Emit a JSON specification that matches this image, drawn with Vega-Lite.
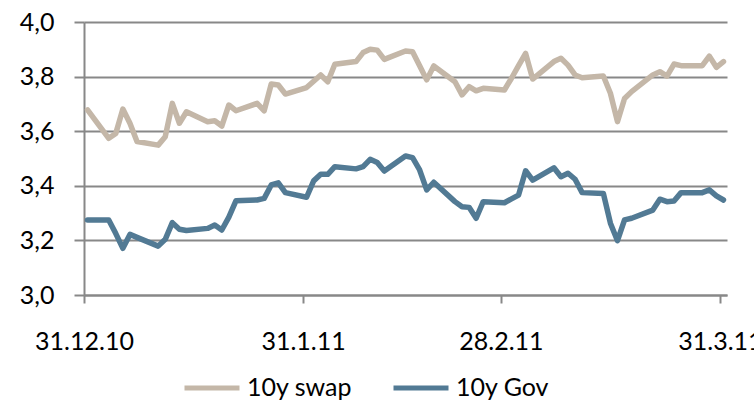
{
  "$schema": "https://vega.github.io/schema/vega-lite/v6.json",
  "width": 643,
  "height": 273,
  "autosize": {"type": "none"},
  "padding": {"left": 84, "top": 22, "right": 27, "bottom": 106},
  "background": "white",
  "config": {"view": {"stroke": null}, "font": "Lato"},
  "data": {"values": [
    {"date": "2010-12-31", "10y swap": 3.678, "10y Gov": 3.275},
    {"date": "2011-01-03", "10y swap": 3.574, "10y Gov": 3.275},
    {"date": "2011-01-04", "10y swap": 3.592, "10y Gov": 3.225},
    {"date": "2011-01-05", "10y swap": 3.681, "10y Gov": 3.171},
    {"date": "2011-01-06", "10y swap": 3.629, "10y Gov": 3.222},
    {"date": "2011-01-07", "10y swap": 3.562, "10y Gov": 3.211},
    {"date": "2011-01-10", "10y swap": 3.549, "10y Gov": 3.179},
    {"date": "2011-01-11", "10y swap": 3.580, "10y Gov": 3.204},
    {"date": "2011-01-12", "10y swap": 3.702, "10y Gov": 3.265},
    {"date": "2011-01-13", "10y swap": 3.629, "10y Gov": 3.241},
    {"date": "2011-01-14", "10y swap": 3.671, "10y Gov": 3.236},
    {"date": "2011-01-17", "10y swap": 3.635, "10y Gov": 3.244},
    {"date": "2011-01-18", "10y swap": 3.638, "10y Gov": 3.256},
    {"date": "2011-01-19", "10y swap": 3.619, "10y Gov": 3.238},
    {"date": "2011-01-20", "10y swap": 3.696, "10y Gov": 3.285},
    {"date": "2011-01-21", "10y swap": 3.675, "10y Gov": 3.345},
    {"date": "2011-01-24", "10y swap": 3.702, "10y Gov": 3.348},
    {"date": "2011-01-25", "10y swap": 3.675, "10y Gov": 3.354},
    {"date": "2011-01-26", "10y swap": 3.773, "10y Gov": 3.403},
    {"date": "2011-01-27", "10y swap": 3.769, "10y Gov": 3.411},
    {"date": "2011-01-28", "10y swap": 3.736, "10y Gov": 3.375},
    {"date": "2011-01-31", "10y swap": 3.760, "10y Gov": 3.358},
    {"date": "2011-02-01", "10y swap": 3.783, "10y Gov": 3.418},
    {"date": "2011-02-02", "10y swap": 3.806, "10y Gov": 3.442},
    {"date": "2011-02-03", "10y swap": 3.781, "10y Gov": 3.442},
    {"date": "2011-02-04", "10y swap": 3.845, "10y Gov": 3.470},
    {"date": "2011-02-07", "10y swap": 3.855, "10y Gov": 3.462},
    {"date": "2011-02-08", "10y swap": 3.888, "10y Gov": 3.470},
    {"date": "2011-02-09", "10y swap": 3.900, "10y Gov": 3.497},
    {"date": "2011-02-10", "10y swap": 3.897, "10y Gov": 3.485},
    {"date": "2011-02-11", "10y swap": 3.863, "10y Gov": 3.454},
    {"date": "2011-02-14", "10y swap": 3.894, "10y Gov": 3.509},
    {"date": "2011-02-15", "10y swap": 3.891, "10y Gov": 3.503},
    {"date": "2011-02-16", "10y swap": 3.840, "10y Gov": 3.458},
    {"date": "2011-02-17", "10y swap": 3.788, "10y Gov": 3.385},
    {"date": "2011-02-18", "10y swap": 3.839, "10y Gov": 3.413},
    {"date": "2011-02-21", "10y swap": 3.781, "10y Gov": 3.342},
    {"date": "2011-02-22", "10y swap": 3.733, "10y Gov": 3.323},
    {"date": "2011-02-23", "10y swap": 3.763, "10y Gov": 3.321},
    {"date": "2011-02-24", "10y swap": 3.748, "10y Gov": 3.281},
    {"date": "2011-02-25", "10y swap": 3.757, "10y Gov": 3.342},
    {"date": "2011-02-28", "10y swap": 3.751, "10y Gov": 3.338},
    {"date": "2011-03-01", "10y swap": 3.794, "10y Gov": 3.352},
    {"date": "2011-03-02", "10y swap": 3.840, "10y Gov": 3.366},
    {"date": "2011-03-03", "10y swap": 3.885, "10y Gov": 3.455},
    {"date": "2011-03-04", "10y swap": 3.791, "10y Gov": 3.421},
    {"date": "2011-03-07", "10y swap": 3.855, "10y Gov": 3.466},
    {"date": "2011-03-08", "10y swap": 3.867, "10y Gov": 3.433},
    {"date": "2011-03-09", "10y swap": 3.842, "10y Gov": 3.446},
    {"date": "2011-03-10", "10y swap": 3.806, "10y Gov": 3.424},
    {"date": "2011-03-11", "10y swap": 3.796, "10y Gov": 3.375},
    {"date": "2011-03-14", "10y swap": 3.802, "10y Gov": 3.372},
    {"date": "2011-03-15", "10y swap": 3.739, "10y Gov": 3.263},
    {"date": "2011-03-16", "10y swap": 3.635, "10y Gov": 3.199},
    {"date": "2011-03-17", "10y swap": 3.720, "10y Gov": 3.275},
    {"date": "2011-03-18", "10y swap": 3.745, "10y Gov": 3.281},
    {"date": "2011-03-21", "10y swap": 3.806, "10y Gov": 3.311},
    {"date": "2011-03-22", "10y swap": 3.818, "10y Gov": 3.351},
    {"date": "2011-03-23", "10y swap": 3.802, "10y Gov": 3.342},
    {"date": "2011-03-24", "10y swap": 3.846, "10y Gov": 3.344},
    {"date": "2011-03-25", "10y swap": 3.840, "10y Gov": 3.375},
    {"date": "2011-03-28", "10y swap": 3.840, "10y Gov": 3.375},
    {"date": "2011-03-29", "10y swap": 3.875, "10y Gov": 3.385},
    {"date": "2011-03-30", "10y swap": 3.834, "10y Gov": 3.363},
    {"date": "2011-03-31", "10y swap": 3.855, "10y Gov": 3.348}
  ]},
  "transform": [{"fold": ["10y swap", "10y Gov"], "as": ["series", "value"]}],
  "mark": {"type": "line", "strokeWidth": 5.5, "strokeJoin": "round", "strokeCap": "round"},
  "encoding": {
    "x": {
      "field": "date",
      "type": "temporal",
      "timeUnit": "utcyearmonthdate",
      "bandPosition": 0.5,
      "scale": {
        "domain": [
          {"year": 2010, "month": 12, "date": 31, "utc": true},
          {"year": 2011, "month": 4, "date": 1, "utc": true}
        ],
        "nice": false
      },
      "axis": {
        "title": null,
        "values": [
          {"year": 2010, "month": 12, "date": 31, "utc": true},
          {"year": 2011, "month": 1, "date": 31, "utc": true},
          {"year": 2011, "month": 2, "date": 28, "utc": true},
          {"year": 2011, "month": 3, "date": 31, "utc": true}
        ],
        "labelExpr": "utcFormat(datum.value, '%d.%-m.%y')",
        "grid": false,
        "domainColor": "#888888",
        "domainWidth": 2,
        "tickColor": "#888888",
        "tickWidth": 2,
        "tickSize": 8,
        "labelFont": "Lato",
        "labelFontSize": 25,
        "labelColor": "#000000",
        "labelPadding": 26,
        "labelFlush": false,
        "labelOverlap": false,
        "labelBound": false
      }
    },
    "y": {
      "field": "value",
      "type": "quantitative",
      "scale": {"domain": [3, 4], "nice": false, "zero": false},
      "axis": {
        "title": null,
        "values": [3, 3.2, 3.4, 3.6, 3.8, 4],
        "labelExpr": "replace(format(datum.value, '.1f'), '.', ',')",
        "grid": true,
        "gridColor": "#888888",
        "gridWidth": 2,
        "domainColor": "#888888",
        "domainWidth": 2,
        "tickColor": "#888888",
        "tickWidth": 2,
        "tickSize": 10,
        "labelFont": "Lato",
        "labelFontSize": 25,
        "labelColor": "#000000",
        "labelPadding": 20
      }
    },
    "color": {
      "field": "series",
      "type": "nominal",
      "sort": ["10y swap", "10y Gov"],
      "scale": {"domain": ["10y swap", "10y Gov"], "range": ["#C4B7A8", "#527A94"]},
      "legend": {
        "title": null,
        "orient": "none",
        "direction": "horizontal",
        "legendX": 98,
        "legendY": 336,
        "symbolType": "stroke",
        "symbolStrokeWidth": 5,
        "symbolSize": 3025,
        "labelFont": "Lato",
        "labelFontSize": 25,
        "labelColor": "#000000",
        "labelOffset": 5,
        "columnPadding": 30
      }
    }
  }
}
